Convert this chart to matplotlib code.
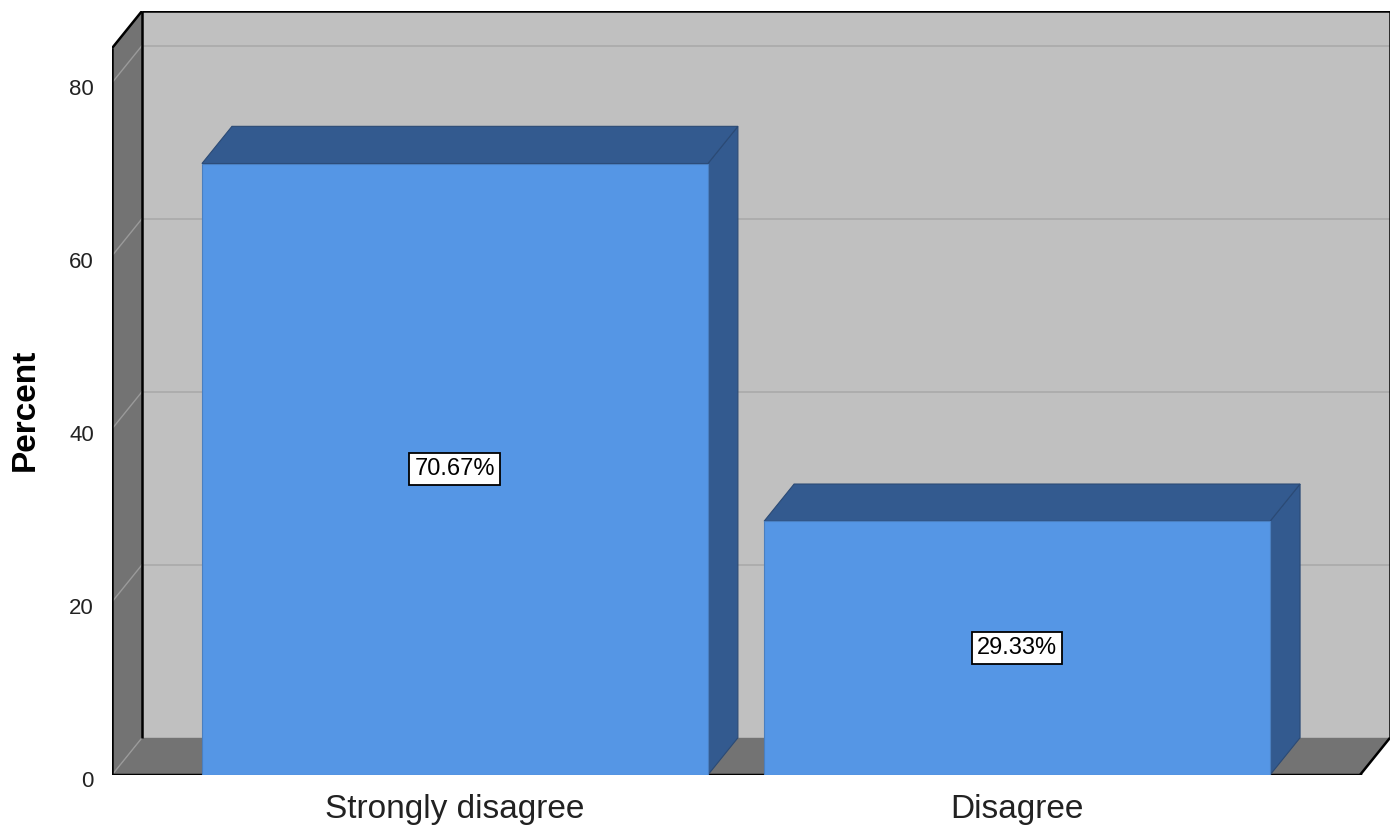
import numpy as np
import matplotlib.pyplot as plt
from matplotlib.patches import Polygon, Rectangle
from matplotlib.transforms import ScaledTranslation

plt.rcParams['font.family'] = ['Liberation Sans', 'DejaVu Sans']

# data
categories = ['Strongly disagree', 'Disagree']
percents = [70.67, 29.33]
value_labels = ['70.67%', '29.33%']
yticks = [0, 20, 40, 60, 80]

# 3d box look
X0, X1 = -0.61, 1.61      # front frame left / right
YTOP = 84.0               # front top of the walls
DX, DY = 0.0534, 4.3      # depth offset
BAR_W = 0.9

wall_back = '#C0C0C0'
wall_side = '#737373'
grid_back = '#AAAAAA'
grid_side = '#9A9A9A'
bar_front = '#5596E5'
bar_dark = '#335A8F'

fig = plt.figure(figsize=(13.96, 8.27), dpi=100)
W, H = 1396, 827
ax = fig.add_axes([112 / W, (H - 775) / H, (1390 - 112) / W, (775 - 11) / H])
ax.set_xlim(X0, X1 + DX)
ax.set_ylim(0, YTOP + DY)
for s in ax.spines.values():
    s.set_visible(False)

# back wall
ax.add_patch(Rectangle((X0 + DX, DY), X1 - X0, YTOP, fc=wall_back, ec='none', zorder=1))
for v in yticks[1:]:
    ax.plot([X0 + DX, X1 + DX], [v + DY, v + DY], color=grid_back, lw=1.2, zorder=2)

# left wall
ax.add_patch(Polygon([(X0, 0), (X0 + DX, DY), (X0 + DX, YTOP + DY), (X0, YTOP)],
                     closed=True, fc=wall_side, ec='none', zorder=1))
for v in yticks:
    ax.plot([X0, X0 + DX], [v, v + DY], color=grid_side, lw=1, zorder=2)

# floor
ax.add_patch(Polygon([(X0, 0), (X1, 0), (X1 + DX, DY), (X0 + DX, DY)],
                     closed=True, fc=wall_side, ec='none', zorder=1))

# frame edges
k = dict(color='black', lw=1.8, zorder=3, solid_capstyle='butt')
ax.plot([X0 + DX, X1 + DX], [YTOP + DY, YTOP + DY], **k)
ax.plot([X1 + DX, X1 + DX], [DY, YTOP + DY], **k)
ax.plot([X0, X0], [0, YTOP], **k)
ax.plot([X0, X0 + DX], [YTOP, YTOP + DY], **k)
ax.plot([X0 + DX, X0 + DX], [DY, YTOP + DY], **k)
ax.plot([X0, X1], [0, 0], color='black', lw=2.5, zorder=3)
ax.plot([X1, X1 + DX], [0, DY], **k)

# bars
xs = np.arange(len(categories))
for x, v, lab in zip(xs, percents, value_labels):
    l, r = x - BAR_W / 2, x + BAR_W / 2
    ax.add_patch(Polygon([(r, 0), (r + DX, DY), (r + DX, v + DY), (r, v)],
                         closed=True, fc=bar_dark, ec='#2B4A75', lw=0.8, zorder=4))
    ax.add_patch(Polygon([(l, v), (r, v), (r + DX, v + DY), (l + DX, v + DY)],
                         closed=True, fc=bar_dark, ec='#2B4A75', lw=0.8, zorder=4))
    ax.add_patch(Rectangle((l, 0), BAR_W, v, fc=bar_front, ec='#4A7FC0', lw=0.8, zorder=5))
    ax.text(x, v / 2, lab, ha='center', va='center', fontsize=17, zorder=6,
            bbox=dict(boxstyle='square,pad=0.22', fc='white', ec='black', lw=1.3))

ax.set_xticks(xs, categories, fontsize=24, color='#222222')
ax.set_yticks(yticks, [str(t) for t in yticks], fontsize=16, color='#222222')
ax.tick_params(axis='both', length=0)
ax.tick_params(axis='x', pad=14)
ax.tick_params(axis='y', pad=13)
# nudge the value labels slightly below their gridline ends
for t in ax.get_yticklabels():
    t.set_transform(t.get_transform() + ScaledTranslation(0, -4 / 100, fig.dpi_scale_trans))

fig.text(25 / W, 1 - 410 / H, 'Percent', rotation=90, ha='center', va='center',
         fontsize=24, fontweight='bold')

fig.savefig('out.png', dpi=100)
